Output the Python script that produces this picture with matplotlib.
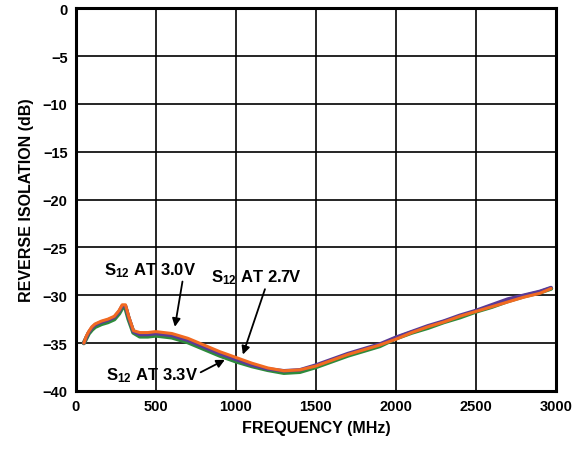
import numpy as np
import matplotlib
matplotlib.use('Agg')
import matplotlib.pyplot as plt

matplotlib.rcParams.update({
    'font.family': ['Liberation Sans', 'DejaVu Sans'],
    'font.weight': 'bold',
    'mathtext.fontset': 'custom',
    'mathtext.rm': 'Liberation Sans:bold',
    'mathtext.it': 'Liberation Sans:bold',
    'mathtext.bf': 'Liberation Sans:bold',
})

# ── Data ───────────────────────────────────────────────────────────────────
freq = [50, 65, 80, 100, 120, 160, 200, 240, 270, 290, 310, 330, 360, 400,
        450, 500, 600, 700, 800, 900, 1000, 1100, 1200, 1300, 1400, 1500,
        1600, 1700, 1800, 1900, 2000, 2100, 2200, 2300, 2400, 2500, 2600,
        2700, 2800, 2900, 2970]

s12_33v = [-35.0, -34.5, -34.0, -33.6, -33.3, -33.0, -32.8, -32.5, -31.9,
           -31.3, -31.3, -32.5, -33.9, -34.3, -34.3, -34.2, -34.4, -34.9,
           -35.6, -36.3, -36.9, -37.4, -37.8, -38.1, -38.0, -37.5, -36.9,
           -36.3, -35.8, -35.3, -34.5, -33.9, -33.4, -32.8, -32.3, -31.7,
           -31.2, -30.6, -30.1, -29.7, -29.3]

s12_30v = [-35.0, -34.4, -33.9, -33.4, -33.1, -32.8, -32.6, -32.3, -31.7,
           -31.1, -31.1, -32.3, -33.8, -34.1, -34.1, -34.0, -34.2, -34.7,
           -35.4, -36.1, -36.7, -37.3, -37.7, -37.9, -37.8, -37.3, -36.7,
           -36.1, -35.6, -35.1, -34.4, -33.8, -33.2, -32.7, -32.1, -31.6,
           -31.0, -30.4, -30.0, -29.6, -29.2]

s12_27v = [-35.0, -34.3, -33.8, -33.3, -33.0, -32.7, -32.5, -32.2, -31.6,
           -31.0, -31.0, -32.2, -33.7, -33.9, -33.9, -33.8, -34.0, -34.5,
           -35.2, -35.9, -36.5, -37.1, -37.6, -37.9, -37.8, -37.4, -36.8,
           -36.2, -35.7, -35.2, -34.6, -33.9, -33.3, -32.8, -32.2, -31.7,
           -31.2, -30.7, -30.2, -29.8, -29.3]

x_ticks = [0, 500, 1000, 1500, 2000, 2500, 3000]
y_ticks = [0, -5, -10, -15, -20, -25, -30, -35, -40]
y_labels = ['0', '\u22125', '\u221210', '\u221215', '\u221220',
            '\u221225', '\u221230', '\u221235', '\u221240']

# ── Figure ─────────────────────────────────────────────────────────────────
fig = plt.figure(figsize=(5.79, 4.60), dpi=100)
ax = fig.add_axes([0.131, 0.148, 0.829, 0.832])

ax.plot(freq, s12_33v, color='#2e8b3c', lw=3.2, solid_capstyle='round', zorder=3)
ax.plot(freq, s12_30v, color='#5b3a96', lw=2.6, solid_capstyle='round', zorder=4)
ax.plot(freq, s12_27v, color='#f26a21', lw=2.2, solid_capstyle='round', zorder=5)

ax.set_xlim(0, 3000)
ax.set_ylim(-40, 0)
ax.set_xticks(x_ticks)
ax.set_yticks(y_ticks)
ax.set_yticklabels(y_labels)
ax.tick_params(length=0, labelsize=10.5, pad=6)
ax.grid(True, color='black', lw=1.2, zorder=1)
for s in ax.spines.values():
    s.set_linewidth(2.2)

ax.set_xlabel('FREQUENCY (MHz)', fontsize=11.5, fontweight='bold', labelpad=5)
ax.set_ylabel('REVERSE ISOLATION (dB)', fontsize=11.5, fontweight='bold', labelpad=6)

arrow = dict(arrowstyle='-|>', color='black', lw=1.3, mutation_scale=12,
             shrinkA=0, shrinkB=0)
ax.annotate(r'S$_{12}$ AT 3.0V', xy=(619, -33.3), xytext=(462, -27.3),
            ha='center', va='center', fontsize=12, fontweight='bold',
            arrowprops=dict(arrow, relpos=(0.86, 0.0)), zorder=6)
ax.annotate(r'S$_{12}$ AT 2.7V', xy=(1044, -36.2), xytext=(1131, -28.1),
            ha='center', va='center', fontsize=12, fontweight='bold',
            arrowprops=dict(arrow, relpos=(0.6, 0.0)), zorder=6)
ax.annotate(r'S$_{12}$ AT 3.3V', xy=(931, -36.75), xytext=(475, -38.3),
            ha='center', va='center', fontsize=12, fontweight='bold',
            arrowprops=dict(arrow, relpos=(1.0, 0.55)), zorder=6)

fig.savefig('out.png', dpi=100, facecolor='white')
